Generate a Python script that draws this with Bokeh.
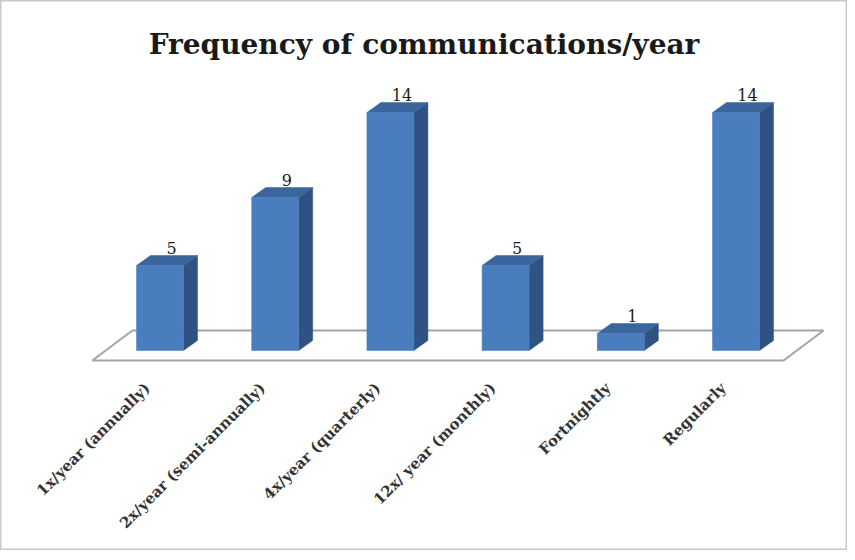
import math
from bokeh.plotting import figure
from bokeh.models import Range1d
from bokeh.core.properties import value
from bokeh.embed import file_html
from bokeh.resources import INLINE

# ---- data ----
categories = ["1x/year (annually)", "2x/year (semi-annually)", "4x/year (quarterly)",
              "12x/ year (monthly)", "Fortnightly", "Regularly"]
counts = [5, 9, 14, 5, 1, 14]
title_text = "Frequency of communications/year"

# ---- layout / style constants ----
W, H = 847, 550
PX_PER_CAT = 115.2          # horizontal pixels per category
PX_PER_UNIT = 17.0          # vertical pixels per count
FIRST_CAT_PX = 159.5        # figure-x of first category centre
ZERO_PX = 350.0             # figure-y (from top) of the zero line

x0 = -FIRST_CAT_PX / PX_PER_CAT
x1 = x0 + W / PX_PER_CAT
y1 = ZERO_PX / PX_PER_UNIT
y0 = y1 - H / PX_PER_UNIT

HALF = 0.204                # half bar width (category units)
DX = 14 / PX_PER_CAT        # bar depth offset (x)
DY = 10 / PX_PER_UNIT       # bar depth offset (y)

FRONT = "#4a7dbe"
SIDE = "#2e5382"
TOP = "#3a659d"

p = figure(width=W, height=H, x_range=Range1d(x0, x1), y_range=Range1d(y0, y1),
           title=None, toolbar_location=None, output_backend="svg",
           x_axis_location=None, y_axis_location=None, min_border=0)
p.grid.visible = False
p.background_fill_color = "white"
p.border_fill_color = "white"
p.outline_line_color = "#c9c9c9"
p.outline_line_width = 2

idx = list(range(len(categories)))

# ---- floor (3D plane) ----
f_left = idx[0] - 0.587
f_right = idx[-1] + 0.413
f_front = -10 / PX_PER_UNIT
f_dx = 40 / PX_PER_CAT
f_dy = 30 / PX_PER_UNIT
p.patch([f_left, f_right, f_right + f_dx, f_left + f_dx],
        [f_front, f_front, f_front + f_dy, f_front + f_dy],
        fill_color="white", line_color="#a3a3a3", line_width=2)

# ---- 3D bars ----
fx, fy, sx, sy, tx, ty = [], [], [], [], [], []
for i, v in zip(idx, counts):
    l, r = i - HALF, i + HALF
    fx.append([l, r, r, l]); fy.append([0, 0, v, v])
    sx.append([r, r + DX, r + DX, r]); sy.append([0, DY, v + DY, v])
    tx.append([l, r, r + DX, l + DX]); ty.append([v, v, v + DY, v + DY])
p.patches(sx, sy, fill_color=SIDE, line_color=SIDE, line_width=0.5)
p.patches(tx, ty, fill_color=TOP, line_color=TOP, line_width=0.5)
p.patches(fx, fy, fill_color=FRONT, line_color=FRONT, line_width=0.5)

# ---- value labels ----
p.text(x=[i + 0.1 for i in idx], y=[v + DY + 0.45 for v in counts],
       text=[str(v) for v in counts], text_align="center", text_baseline="alphabetic",
       text_font=value("DejaVu Serif"), text_font_size="16px", text_color="#1e1e1e")

# ---- category labels ----
p.text(x=[i - 0.11 for i in idx], y=[-2.06] * len(idx), text=categories,
       angle=math.pi / 4, text_align="right", text_baseline="middle",
       text_font=value("DejaVu Serif"), text_font_style="bold",
       text_font_size="15px", text_color="#333333")

# ---- title ----
p.text(x=[(x0 + x1) / 2], y=[(ZERO_PX - 44) / PX_PER_UNIT], text=[title_text],
       text_align="center", text_baseline="alphabetic",
       text_font=value("DejaVu Serif"), text_font_style="bold",
       text_font_size="28px", text_color="#1a1a1a")

open("out.html", "w").write(file_html(p, INLINE))
